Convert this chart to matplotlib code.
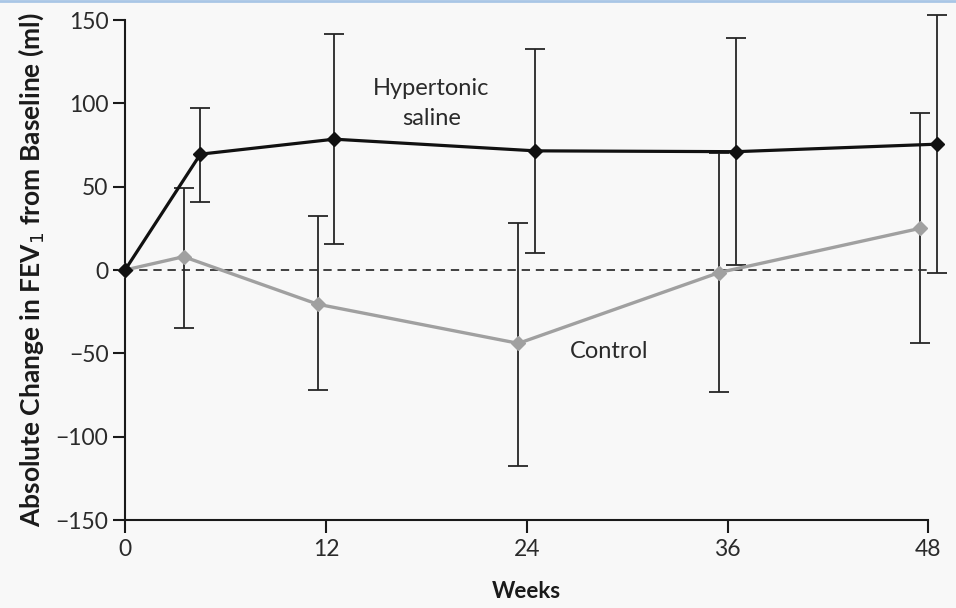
import numpy as np
import matplotlib
matplotlib.use("Agg")
import matplotlib.pyplot as plt
from matplotlib.lines import Line2D

# Semanas de avaliacao
weeks = np.array([0, 4, 12, 24, 36, 48])

# Solucao hipertonica: media e limites do erro (ml)
hyper_mean = np.array([0, 69.5, 78.5, 71.5, 71, 75.5])
hyper_low = np.array([0, 41, 15.5, 10, 3, -1.5])
hyper_high = np.array([0, 97.5, 141.5, 132.5, 139.5, 153])

# Controle
ctrl_mean = np.array([0, 8, -20.5, -44, -1.5, 25])
ctrl_low = np.array([0, -34.5, -72, -117.5, -73, -43.5])
ctrl_high = np.array([0, 49.5, 32.5, 28, 70, 94])

xticks = [0, 12, 24, 36, 48]
yticks = [-150, -100, -50, 0, 50, 100, 150]

plt.rcParams["font.family"] = ["Lato", "DejaVu Sans"]

bg = "#f8f8f8"
fig = plt.figure(figsize=(9.56, 6.08), dpi=100, facecolor=bg)
ax = fig.add_axes([0.1308, 0.1447, 0.9712 - 0.1308, 0.9671 - 0.1447])
ax.set_facecolor(bg)

# deslocar levemente os pontos para nao sobrepor as barras
shift = np.where(weeks > 0, 0.5, 0.0)
x_h = weeks + shift
x_c = weeks - shift

# linha de referencia no zero
ax.axhline(0, color="#222222", lw=1.2, ls=(0, (5, 3.5)), zorder=1)

# barras de erro (sem o ponto da semana 0)
m = weeks > 0
ax.errorbar(x_c[m], ctrl_mean[m],
            yerr=[ctrl_mean[m] - ctrl_low[m], ctrl_high[m] - ctrl_mean[m]],
            fmt="none", ecolor="#262626", elinewidth=1.3, capsize=7, capthick=1.3,
            zorder=2, clip_on=False)
ax.errorbar(x_h[m], hyper_mean[m],
            yerr=[hyper_mean[m] - hyper_low[m], hyper_high[m] - hyper_mean[m]],
            fmt="none", ecolor="#262626", elinewidth=1.3, capsize=7, capthick=1.3,
            zorder=2, clip_on=False)

ax.plot(x_c, ctrl_mean, color="#a0a0a0", lw=2.4, marker="D", ms=7,
        mfc="#a0a0a0", mec="#a0a0a0", zorder=3, clip_on=False)
ax.plot(x_h, hyper_mean, color="#111111", lw=2.3, marker="D", ms=7.5,
        mfc="#111111", mec="#111111", zorder=4, clip_on=False)

ax.text(18.3, 100, "Hypertonic\nsaline", ha="center", va="center",
        fontsize=17, color="#2a2a2a", linespacing=1.5)
ax.text(28.9, -49, "Control", ha="center", va="center",
        fontsize=17, color="#2a2a2a")

ax.set_xlim(0, 48)
ax.set_ylim(-150, 150)
ax.set_xticks(xticks)
ax.set_yticks(yticks)
ax.set_yticklabels([str(v).replace("-", "\u2212") for v in yticks])

for s in ["top", "right"]:
    ax.spines[s].set_visible(False)
for s in ["left", "bottom"]:
    ax.spines[s].set_linewidth(1.5)
    ax.spines[s].set_color("#1a1a1a")

ax.tick_params(axis="both", direction="out", length=9, width=1.5,
               color="#1a1a1a", labelsize=16.5, labelcolor="#2a2a2a", pad=3)
ax.tick_params(axis="x", pad=5)

ax.set_xlabel("Weeks", fontsize=16, fontweight="bold", color="#1a1a1a", labelpad=15)
ax.set_ylabel("Absolute Change in FEV$_1$ from Baseline (ml)", fontsize=19,
              fontweight="bold", color="#1a1a1a")
ax.yaxis.set_label_coords(-0.098, 0.5)

# linha azul no topo da captura
fig.add_artist(Line2D([0, 1], [0.998, 0.998], transform=fig.transFigure,
                      color="#a9c6e6", lw=2))

fig.savefig("out.png", dpi=100, facecolor=bg)
